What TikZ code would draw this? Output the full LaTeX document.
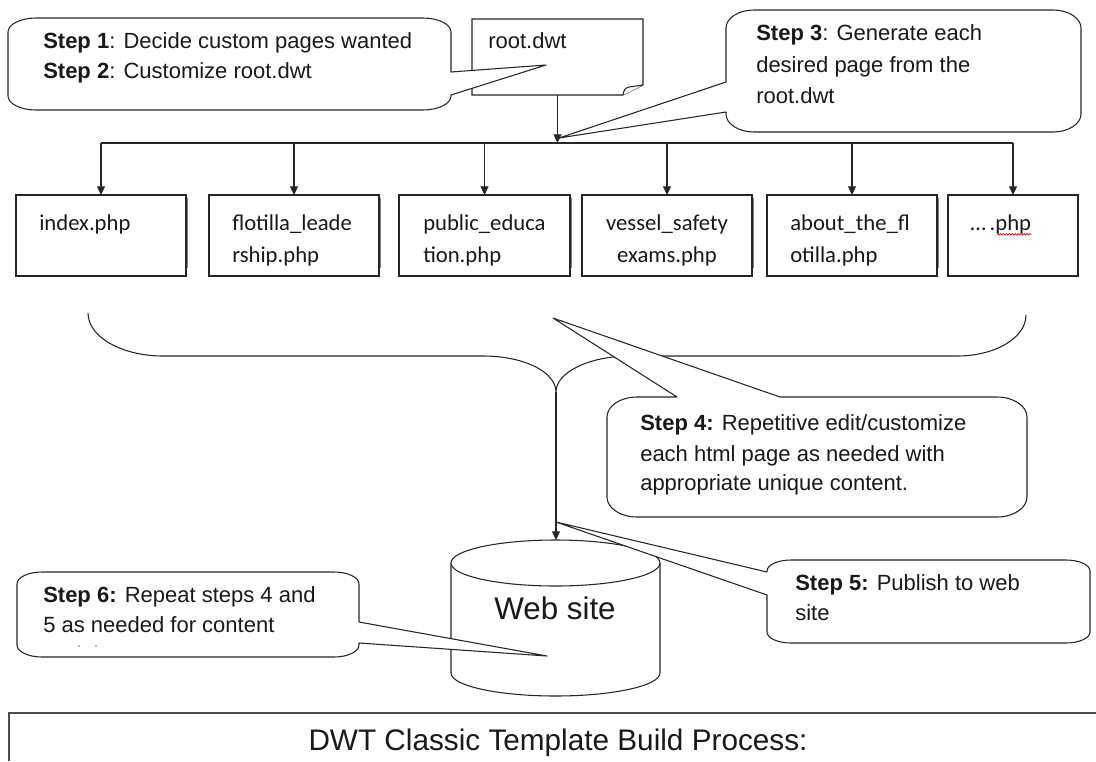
\documentclass[tikz,border=0pt]{standalone}
\usepackage{fontspec}
\setmainfont{Liberation Sans}
\newfontfamily\calibri{Carlito}
\usetikzlibrary{arrows.meta,decorations.pathmorphing}

\tikzset{
  ln/.style={draw=black!85, line width=0.8pt},
  arr/.style={ln, -{Triangle[length=6.5pt,width=6pt]}},
  bubble/.style={ln, fill=white, line join=round},
  filebox/.style={draw=black!85, line width=0.9pt, fill=white, inner sep=0pt, outer sep=0pt, minimum height=60.75pt},
  edgeshade/.style={draw=black!50, line width=1.1pt},
  steptext/.style={anchor=base west, inner sep=0pt, text=black!90, font=\fontsize{16.5}{20}\selectfont},
  filetext/.style={anchor=base west, inner sep=0pt, text=black!90, font=\calibri\fontsize{17}{20}\selectfont},
  squiggle/.style={draw=red!85!black, line width=0.5pt, decorate, decoration={snake, amplitude=0.6pt, segment length=2.2pt}},
}

% rounded callout: L, T, R, B, corner rx, corner ry, pointer on top / right / left side
\newcommand\bubblepath[9]{%
  \filldraw[bubble] (#1+#5,#2) #7 -- (#3-#5,#2)
    .. controls (#3-0.448*#5,#2) and (#3,#2+0.448*#6) .. (#3,#2+#6) #8
    -- (#3,#4-#6) .. controls (#3,#4-0.448*#6) and (#3-0.448*#5,#4) .. (#3-#5,#4)
    -- (#1+#5,#4) .. controls (#1+0.448*#5,#4) and (#1,#4-0.448*#6) .. (#1,#4-#6) #9
    -- (#1,#2+#6) .. controls (#1,#2+0.448*#6) and (#1+0.448*#5,#2) .. (#1+#5,#2) -- cycle;}

\begin{document}
\begin{tikzpicture}[x=0.75pt,y=-0.75pt]
\useasboundingbox (0,0) rectangle (1096,761);

% named points
\coordinate (bus) at (0,143);
\coordinate (cusp) at (556,392);
\coordinate (cyltop) at (556,540);
\coordinate (tip1) at (546,65);
\coordinate (tip3) at (559,138);
\coordinate (tip4) at (553,318);
\coordinate (tip5) at (556,522);
\coordinate (tip6) at (547,656);

% template document with folded corner
\node[inner sep=0pt, outer sep=0pt, minimum width=128.25pt, minimum height=57pt] (root) at (557.5,57) {};
\draw[ln, fill=white] (root.north west) -- (root.north east) -- ([yshift=7.5pt]root.south east)
  -- ([xshift=-15pt]root.south east) -- (root.south west) -- cycle;
\draw[ln, fill=white] ([xshift=-15pt]root.south east) .. controls +(0.8pt,4.5pt) and +(-3pt,-1pt) ..
  ([xshift=-10.5pt,yshift=6pt]root.south east) -- ([yshift=7.5pt]root.south east);
\node[steptext] (rootlbl) at (488,48) {root.dwt};

% generated pages
\node[filebox, minimum width=127.5pt]  (f1) at (101,235.5) {};
\node[filebox, minimum width=127.5pt]  (f2) at (294,235.5) {};
\node[filebox, minimum width=128.25pt] (f3) at (484.5,235.5) {};
\node[filebox, minimum width=127.5pt]  (f4) at (667,235.5) {};
\node[filebox, minimum width=127.5pt]  (f5) at (852,235.5) {};
\node[filebox, minimum width=97.5pt]   (f6) at (1013,235.5) {};
\foreach \f in {f1,f2,f3,f4,f5}
  \draw[edgeshade] ([xshift=1pt,yshift=-2.5pt]\f.north east) -- ([xshift=1pt,yshift=6pt]\f.south east);

\node[filetext] (t1) at (39,230) {index.php};
\node[filetext] (t2a) at (232,230) {flotilla\_leade};
\node[filetext] (t2b) at (232,262) {rship.php};
\node[filetext] (t3a) at (423,230) {public\_educa};
\node[filetext] (t3b) at (423,262) {tion.php};
\node[filetext, anchor=base] (t4a) at (667,230) {vessel\_safety};
\node[filetext, anchor=base] (t4b) at (667,262) {exams.php};
\node[filetext] (t5a) at (790,230) {about\_the\_fl};
\node[filetext] (t5b) at (790,262) {otilla.php};
\node[filetext] (t6) at (970,230) {…\,.php};
\draw[squiggle] ([xshift=-26pt,yshift=-3.2pt]t6.base east) -- ([yshift=-3.2pt]t6.base east);

% distribution bus
\draw[arr] (root.south) -- (root.south |- bus);
\draw[ln] (f1.north |- bus) -- (f6.north |- bus);
\foreach \f in {f1,f2,f3,f4,f5,f6}
  \draw[arr] (\f.north |- bus) -- (\f.north);

% brace gathering the pages
\draw[ln] (88,313) .. controls (88,337) and (122,356) .. (163,356) -- (483,356)
  .. controls (524,356) and (556,372) .. (cusp)
  .. controls (556,372) and (590,356) .. (630,356) -- (957,356)
  .. controls (995,356) and (1026,338) .. (1026,315);
\draw[arr] (cusp) -- (cyltop);

% web site store
\fill[white] (451,563) -- (451,673) .. controls (451,685.7) and (497.8,696) .. (555.5,696)
  .. controls (613.2,696) and (660,685.7) .. (660,673) -- (660,563) -- cycle;
\draw[ln] (451,563) -- (451,673) .. controls (451,685.7) and (497.8,696) .. (555.5,696)
  .. controls (613.2,696) and (660,685.7) .. (660,673) -- (660,563);
\filldraw[ln, fill=white] (555.5,563) ellipse [x radius=104.5, y radius=23];
\node[anchor=base, inner sep=0pt, text=black!90, font=\fontsize{23.5}{26}\selectfont] (web) at (555,619) {Web site};

% caption frame
\draw[line width=1.2pt, draw=black!70] (1096,713) -- (9,713) -- (9,761);
\node[anchor=base, inner sep=0pt, text=black!90, font=\fontsize{22.3}{26}\selectfont] (title) at (558,750) {DWT Classic Template Build Process:};

% callouts
\bubblepath{8}{18}{451}{110}{28}{14}{}{-- (451,72) -- (tip1) -- (451,95)}{}
\node[steptext] (s1) at (43,48) {\textbf{Step 1}: Decide custom pages wanted};
\node[steptext] (s2) at (43,78) {\textbf{Step 2}: Customize root.dwt};

\bubblepath{726}{10}{1081}{132}{28}{18}{}{}{-- (726,112) -- (tip3) -- (726,82)}
\node[steptext] (s3a) at (756,40) {\textbf{Step 3}: Generate each};
\node[steptext] (s3b) at (756,72) {desired page from the};
\node[steptext] (s3c) at (756,103) {root.dwt};

\bubblepath{607}{397}{1027}{517}{30}{20}{-- (677,397) -- (tip4) -- (780,397)}{}{}
\node[steptext] (s4a) at (640,430) {\textbf{Step 4:} Repetitive edit/customize};
\node[steptext] (s4b) at (640,461) {each html page as needed with};
\node[steptext] (s4c) at (640,490) {appropriate unique content.};

\bubblepath{767}{560}{1090}{643}{24}{11}{}{}{-- (767,595) -- (tip5) -- (767,572)}
\node[steptext] (s5a) at (795,590) {\textbf{Step 5:} Publish to web};
\node[steptext] (s5b) at (795,620) {site};

\bubblepath{17}{572}{359}{657}{25}{12}{}{-- (359,622) -- (tip6) -- (359,643)}{}
\node[steptext] (s6a) at (43,602) {\textbf{Step 6:} Repeat steps 4 and};
\node[steptext] (s6b) at (43,632) {5 as needed for content};
\fill[black!45] (79,646) circle[radius=1];
\fill[black!45] (96,646) circle[radius=1];
\end{tikzpicture}
\end{document}
